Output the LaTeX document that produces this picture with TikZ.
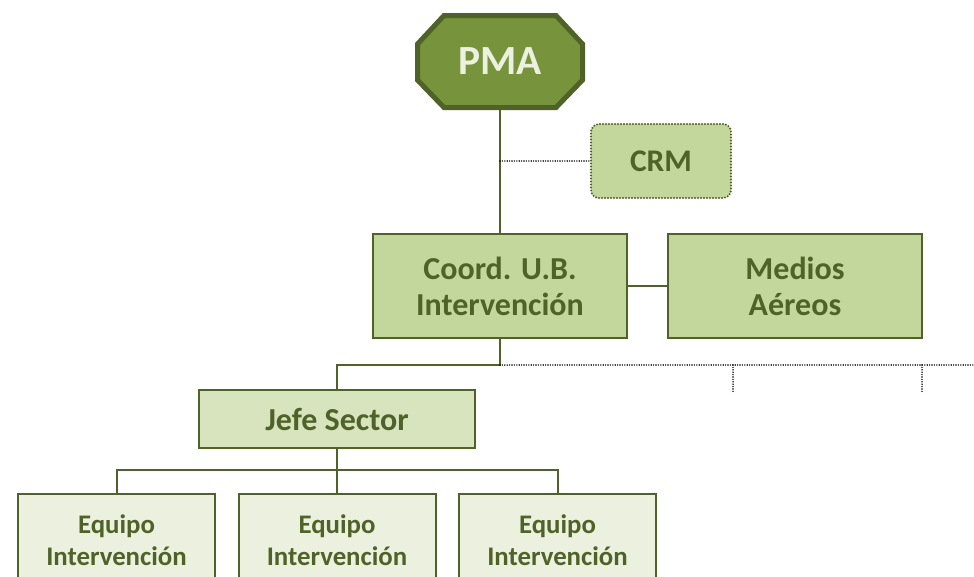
\documentclass[tikz,border=0pt]{standalone}
\usepackage{fontspec}
\setmainfont{Carlito}
\definecolor{dkgreen}{HTML}{4F6228}
\definecolor{mdgreen}{HTML}{77933C}
\definecolor{ltgreen}{HTML}{C3D69B}
\definecolor{lrgreen}{HTML}{D7E4BD}
\definecolor{lsgreen}{HTML}{EBF1DE}
\tikzset{
  box/.style={draw=dkgreen, line width=2pt, fill=ltgreen, text=dkgreen, align=center,
    font=\bfseries\fontsize{32}{36}\selectfont, inner sep=0pt},
  pmabox/.style={text=lsgreen, inner sep=0pt,
    minimum width=165pt, minimum height=92pt, font=\bfseries\fontsize{41.5}{48}\selectfont},
  octo/.style={draw=dkgreen, line width=5pt, fill=mdgreen, line join=miter},
  crmbox/.style={box, rounded corners=8pt, line width=2.2pt, dash pattern=on 0pt off 3pt, line cap=round,
    minimum width=140pt, minimum height=74pt, font=\bfseries\fontsize{31.5}{36}\selectfont},
  bigbox/.style={box, minimum width=254pt, minimum height=104pt},
  jefebox/.style={box, fill=lrgreen, minimum width=276pt, minimum height=58pt},
  eqbox/.style={box, fill=lsgreen, minimum width=197pt, minimum height=92pt,
    font=\bfseries\fontsize{26.8}{32}\selectfont},
  link/.style={draw=dkgreen, line width=2pt},
  dotlink/.style={draw=black, line width=1.6pt, dash pattern=on 0pt off 2.4pt, line cap=round}
}
\begin{document}
\begin{tikzpicture}[x=1pt, y=-1pt]
\useasboundingbox (0,0) rectangle (974,576);
\clip (0,0) rectangle (974,576);
\draw[octo] (444,15.5) -- (556,15.5) -- (582.5,44) -- (582.5,80) -- (556,107.5)
  -- (444,107.5) -- (417.5,80) -- (417.5,44) -- cycle;
\node[pmabox] (pma) at (500,61.5) {PMA};
\node[crmbox] (crm) at (661,161) {CRM};
\node[bigbox] (coord) at (500,286) {Coord. U.B.\\Intervención};
\node[bigbox] (medios) at (795,286) {Medios\\Aéreos};
\node[jefebox] (jefe) at (337,419) {Jefe Sector};
\node[eqbox] (eq1) at (116.5,540) {Equipo\\Intervención};
\node[eqbox] (eq2) at (337,540) {Equipo\\Intervención};
\node[eqbox] (eq3) at (557.5,540) {Equipo\\Intervención};
\coordinate (c1) at (500,161);
\coordinate (b1) at (500,365);
\coordinate (b2) at (337,470);
\coordinate (e1) at (975,365);
\coordinate (d1) at (733,365);
\coordinate (d1b) at (733,393);
\coordinate (d2) at (922,365);
\coordinate (d2b) at (922,393);
\draw[link] (pma.south) -- (coord.north);
\draw[dotlink] (c1) -- (crm.west);
\draw[link] (coord.east) -- (medios.west);
\draw[link] (coord.south) -- (b1) -| (jefe.north);
\draw[dotlink] (b1) -- (e1);
\draw[dotlink] (d1) -- (d1b);
\draw[dotlink] (d2) -- (d2b);
\draw[link] (jefe.south) -- (b2);
\draw[link] (b2) -| (eq1.north);
\draw[link] (b2) -| (eq3.north);
\draw[link] (b2) -- (eq2.north);
\end{tikzpicture}
\end{document}
